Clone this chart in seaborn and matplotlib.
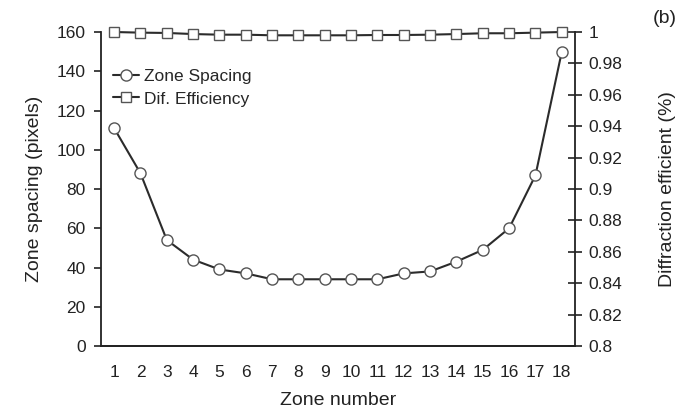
import numpy as np
import pandas as pd
import matplotlib
matplotlib.use('Agg')
import matplotlib.pyplot as plt
import seaborn as sns

# chart values
zones = list(range(1, 19))
zone_spacing = [111, 88, 54, 44, 39, 37, 34, 34, 34, 34, 34, 37, 38, 43, 49, 60, 87, 150]
dif_efficiency = [1.000, 0.9996, 0.9994, 0.9987, 0.9983, 0.9983, 0.9979, 0.9979, 0.9979,
                  0.9979, 0.9981, 0.9981, 0.9983, 0.9987, 0.9992, 0.9992, 0.9996, 1.000]
left_ticks = [0, 20, 40, 60, 80, 100, 120, 140, 160]
right_ticks = [0.8, 0.82, 0.84, 0.86, 0.88, 0.9, 0.92, 0.94, 0.96, 0.98, 1.0]
right_labels = ['0.8', '0.82', '0.84', '0.86', '0.88', '0.9', '0.92', '0.94', '0.96', '0.98', '1']

df = pd.DataFrame({'zone': zones, 'spacing': zone_spacing, 'eff': dif_efficiency})

sns.set_style('white')
plt.rcParams['font.family'] = ['Liberation Sans', 'DejaVu Sans']

txt = '#222222'
line_col = '#2b2b2b'
edge_col = '#555555'
tick_fs = 12.5
label_fs = 14

fig = plt.figure(figsize=(6.94, 4.12), dpi=100)
ax1 = fig.add_axes([0.1455, 0.1602, 0.683, 0.7621])
ax2 = ax1.twinx()

sns.lineplot(data=df, x='zone', y='spacing', ax=ax1, color=line_col, linewidth=1.5,
             marker='o', markersize=8, markerfacecolor='white', markeredgecolor=edge_col,
             markeredgewidth=1.0, label='Zone Spacing', legend=False, clip_on=False)
sns.lineplot(data=df, x='zone', y='eff', ax=ax2, color=line_col, linewidth=1.5,
             marker='s', markersize=7.5, markerfacecolor='white', markeredgecolor=edge_col,
             markeredgewidth=1.0, label='Dif. Efficiency', legend=False, clip_on=False)

ax1.set_xlim(0.5, 18.5)
ax1.set_ylim(0, 160)
ax2.set_ylim(0.8, 1.0)

# category axis: ticks on boundaries, labels in the middle
ax1.set_xticks(np.arange(0.5, 19, 1))
ax1.set_xticklabels([])
ax1.set_xticks(zones, minor=True)
ax1.set_xticklabels([str(z) for z in zones], minor=True)
ax1.tick_params(axis='x', which='major', direction='out', length=5, width=1.2, color=txt)
ax1.tick_params(axis='x', which='minor', length=0, pad=14, labelsize=tick_fs, labelcolor=txt)

ax1.set_yticks(left_ticks)
ax1.tick_params(axis='y', direction='out', length=5, width=1.2, color=txt, pad=6,
                labelsize=tick_fs, labelcolor=txt, left=True)
ax2.set_yticks(right_ticks)
ax2.set_yticklabels(right_labels)
ax2.tick_params(axis='y', direction='inout', length=10, width=1.2, color=txt, pad=5,
                labelsize=tick_fs, labelcolor=txt, right=True)

for ax in (ax1, ax2):
    ax.spines['top'].set_visible(False)
    for s in ('left', 'right', 'bottom'):
        ax.spines[s].set_linewidth(1.3)
        ax.spines[s].set_color(txt)
ax2.spines['left'].set_visible(False)
ax1.spines['right'].set_visible(False)

ax1.set_xlabel('Zone number', fontsize=label_fs, color=txt)
ax1.set_ylabel('Zone spacing (pixels)', fontsize=label_fs, color=txt)
ax2.set_ylabel('Diffraction efficient (%)', fontsize=label_fs, color=txt)
ax1.xaxis.set_label_coords(0.5, -0.145)
ax1.yaxis.set_label_coords(-0.122, 0.5)
ax2.yaxis.set_label_coords(1.178, 0.5)

h1, l1 = ax1.get_legend_handles_labels()
h2, l2 = ax2.get_legend_handles_labels()
ax1.legend(h1 + h2, l1 + l2, loc='upper left', bbox_to_anchor=(0.0, 0.92), frameon=False,
           fontsize=tick_fs, handlelength=1.5, handletextpad=0.3, labelspacing=0.4,
           borderaxespad=0.3)

fig.text(0.958, 0.954, '(b)', fontsize=14, color=txt, ha='center', va='center')

fig.savefig('out.png', dpi=100)
